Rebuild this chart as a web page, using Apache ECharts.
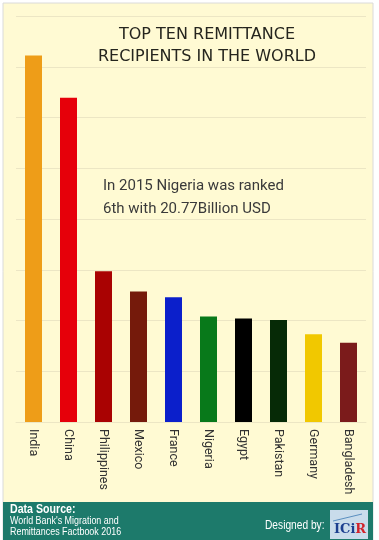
<!DOCTYPE html>
<html>
<head>
<meta charset="utf-8">
<script src="https://cdn.jsdelivr.net/npm/echarts@6/dist/echarts.min.js"></script>
<style>
html,body{margin:0;padding:0;background:#ffffff;}
#chart{width:379px;height:540px;}
</style>
</head>
<body>
<div id="chart"></div>
<script>
const categories = ['India','China','Philippines','Mexico','France','Nigeria','Egypt','Pakistan','Germany','Bangladesh'];
const values = [72.2, 63.9, 29.7, 25.7, 24.6, 20.8, 20.4, 20.1, 17.3, 15.6];
const barColors = ['#EE9D18','#E6000A','#A90202','#751A0B','#0B1FCB','#08791A','#000000','#062A06','#F1C800','#7B1B1B'];
const yMax = 80, yStep = 10;
const titleLines = ['TOP TEN REMITTANCE', 'RECIPIENTS IN THE WORLD'];
const noteLines = ['In 2015 Nigeria was ranked', '6th with 20.77Billion USD'];
const sourceLines = ["World Bank's Migration and", 'Remittances Factbook 2016'];

const narrow = '"Liberation Sans Narrow", "Liberation Sans", sans-serif';
const chart = echarts.init(document.getElementById('chart'), null, {renderer:'canvas'});
chart.setOption({
  animation:false,
  backgroundColor:'#ffffff',
  graphic:[
    {type:'rect', z:-10, shape:{x:3,y:3,width:370,height:537}, style:{fill:'#FFFAD3', stroke:'#DADADA', lineWidth:1}},
    {type:'rect', z:-9, shape:{x:3,y:502,width:370,height:38}, style:{fill:'#1D7A6B'}},
    {type:'text', x:10, y:503, scaleX:0.85, style:{text:'Data Source:', fill:'#ffffff', font:'bold 12.5px ' + narrow}},
    {type:'text', x:10, y:516, scaleX:0.85, style:{text:sourceLines.join('\n'), fill:'#ffffff', lineHeight:11, font:'10.5px ' + narrow}},
    {type:'text', x:265, y:520, scaleX:0.85, style:{text:'Designed by:', fill:'#ffffff', font:'12px ' + narrow}},
    {type:'rect', shape:{x:330,y:510,width:38,height:29}, style:{fill:'#C9DCEB'}},
    {type:'line', shape:{x1:333,y1:521,x2:362,y2:514}, style:{stroke:'#5A8FC0', lineWidth:1}},
    {type:'text', x:334, y:523, style:{rich:{a:{fill:'#1B3F8F', font:'bold 13px "DejaVu Serif", serif'}, b:{fill:'#D2232A', font:'bold 13px "DejaVu Serif", serif'}}, text:'{a|ICi}{b|R}'}},
    {type:'text', left:103, top:175, style:{text:noteLines.join('\n'), fill:'#3A3A3A', lineHeight:23, font:'15px Roboto, sans-serif'}}
  ],
  title:{
    text:titleLines.join('\n'),
    left:202, top:19, textAlign:'center',
    textStyle:{fontFamily:'"DejaVu Sans", sans-serif', fontSize:16, fontWeight:'normal', color:'#25251E', lineHeight:22}
  },
  grid:{left:16, right:13, top:16, bottom:118},
  xAxis:{
    type:'category', data:categories,
    axisLine:{lineStyle:{color:'#ECE6C4'}},
    axisTick:{show:false},
    axisLabel:{rotate:-90, margin:7, color:'#333333', fontFamily:'Roboto, sans-serif', fontSize:12.5, interval:0}
  },
  yAxis:{
    type:'value', min:0, max:yMax, interval:yStep,
    axisLabel:{show:false}, axisLine:{show:false}, axisTick:{show:false},
    splitLine:{lineStyle:{color:'#ECE6C4', width:1}}
  },
  series:[{
    type:'bar', barWidth:17,
    data:values.map((v,i)=>({value:v, itemStyle:{color:barColors[i]}}))
  }]
});
</script>
</body>
</html>
